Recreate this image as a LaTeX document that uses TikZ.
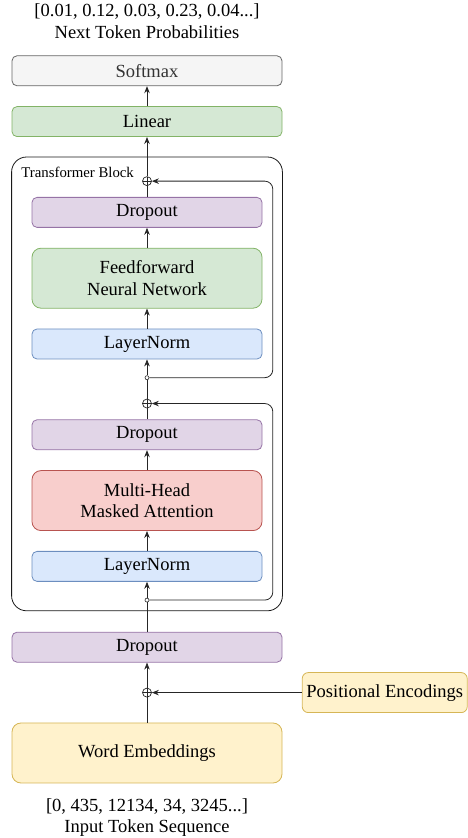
\documentclass[tikz,border=0pt]{standalone}
\usepackage{fontspec}
\setmainfont{Liberation Serif}
\usetikzlibrary{positioning,arrows.meta,fit,calc,backgrounds}
\definecolor{greyfill}{HTML}{F5F5F5}
\definecolor{greyline}{HTML}{666666}
\definecolor{greytext}{HTML}{333333}
\definecolor{greenfill}{HTML}{D5E8D4}
\definecolor{greenline}{HTML}{82B366}
\definecolor{purplefill}{HTML}{E1D5E7}
\definecolor{purpleline}{HTML}{9673A6}
\definecolor{bluefill}{HTML}{DAE8FC}
\definecolor{blueline}{HTML}{6C8EBF}
\definecolor{redfill}{HTML}{F8CECC}
\definecolor{redline}{HTML}{B85450}
\definecolor{yellowfill}{HTML}{FFF2CC}
\definecolor{yellowline}{HTML}{D6B656}

\begin{document}
\begin{tikzpicture}[
    x=1pt, y=1pt,
    font=\fontsize{18.5}{21.5}\selectfont,
    node distance=20pt,
    layer/.style={
        rounded corners=5pt,
        align=center,
        inner sep=0pt,
        minimum width=230pt,
        minimum height=30pt,
        line width=0.8pt
    },
    wide/.style={minimum width=270pt},
    tall/.style={minimum height=60pt, rounded corners=9pt},
    softmaxbox/.style={layer, wide, draw=greyline, fill=greyfill, text=greytext},
    linearbox/.style={layer, draw=greenline, fill=greenfill},
    dropbox/.style={layer, draw=purpleline, fill=purplefill},
    normbox/.style={layer, draw=blueline, fill=bluefill},
    attnbox/.style={layer, draw=redline, fill=redfill},
    embbox/.style={layer, draw=yellowline, fill=yellowfill},
    posbox/.style={embbox, minimum width=165pt, minimum height=40pt, rounded corners=6pt},
    blockbox/.style={
        draw=black!90,
        rounded corners=15pt,
        inner sep=0pt,
        line width=0.8pt
    },
    addnode/.style={
        circle,
        draw=black!85,
        fill=white,
        inner sep=0pt,
        minimum size=9pt,
        line width=0.7pt,
        path picture={
            \draw[line width=0.6pt, black!85]
                (path picture bounding box.north) -- (path picture bounding box.south)
                (path picture bounding box.west) -- (path picture bounding box.east);
        }
    },
    dot/.style={circle, draw=black!85, fill=white, inner sep=0pt, minimum size=4pt, line width=0.6pt},
    tokens/.style={align=center, inner sep=0pt},
    line/.style={draw=black!85, line width=0.8pt},
    arrow/.style={line, -{Stealth[length=7pt, width=5.5pt]}}
]
    \useasboundingbox (0,0) rectangle (468,838);

    % 1. Embeddings and positional encodings
    \node[embbox, wide, tall] (emb) at (147,85) {Word Embeddings};
    \node[tokens, below=15pt of emb] (inseq) {[0, 435, 12134, 34, 3245...]\\Input Token Sequence};
    \node[dropbox, wide, above=60pt of emb] (drop0) {Dropout};
    \node[addnode] (add0) at ($(emb.north)!0.5!(drop0.south)$) {};
    \node[posbox, right=150pt of add0] (pos) {Positional Encodings};

    % 2. Transformer block: attention half
    \node[normbox, above=50pt of drop0] (norm1) {LayerNorm};
    \node[attnbox, tall, above=of norm1] (attn) {Multi-Head\\Masked Attention};
    \node[dropbox, above=of attn] (drop1) {Dropout};
    \node[dot, below=16pt of norm1] (split1) {};
    \node[addnode, above=11pt of drop1] (add1) {};

    % Transformer block: feedforward half
    \node[normbox, above=60pt of drop1] (norm2) {LayerNorm};
    \node[linearbox, tall, above=of norm2] (ffn) {Feedforward\\Neural Network};
    \node[dropbox, above=of ffn] (drop2) {Dropout};
    \node[dot, below=16pt of norm2] (split2) {};
    \node[addnode, above=11pt of drop2] (add2) {};

    % Block frame
    \begin{scope}[on background layer]
        \node[blockbox, fit={($(drop2.north west)+(-20pt,40pt)$) ($(norm1.south east)+(20pt,-29pt)$)}] (block) {};
    \end{scope}
    \node[anchor=north west, inner sep=0pt, font=\fontsize{14.8}{17}\selectfont] (blocklabel)
        at ($(block.north west)+(10pt,-10pt)$) {Transformer Block};

    % 3. Output head
    \node[linearbox, wide, above=60pt of drop2] (linear) {Linear};
    \node[softmaxbox, above=of linear] (softmax) {Softmax};
    \node[tokens, above=17pt of softmax] (outprob) {[0.01, 0.12, 0.03, 0.23, 0.04...]\\Next Token Probabilities};

    % Main path
    \draw[line] (emb) -- (add0);
    \draw[arrow] (pos) -- (add0);
    \draw[arrow] (add0) -- (drop0);
    \draw[line] (drop0) -- (split1);
    \draw[arrow] (split1) -- (norm1);
    \draw[arrow] (norm1) -- (attn);
    \draw[arrow] (attn) -- (drop1);
    \draw[line] (drop1) -- (add1);
    \draw[line] (add1) -- (split2);
    \draw[arrow] (split2) -- (norm2);
    \draw[arrow] (norm2) -- (ffn);
    \draw[arrow] (ffn) -- (drop2);
    \draw[line] (drop2) -- (add2);
    \draw[arrow] (add2) -- (linear);
    \draw[arrow] (linear) -- (softmax);

    % Residual connections
    \coordinate (loopx) at ($(block.east)+(-10pt,0)$);
    \draw[arrow, rounded corners=8pt] (split1) -- (split1 -| loopx) |- (add1);
    \draw[arrow, rounded corners=8pt] (split2) -- (split2 -| loopx) |- (add2);

\end{tikzpicture}
\end{document}
